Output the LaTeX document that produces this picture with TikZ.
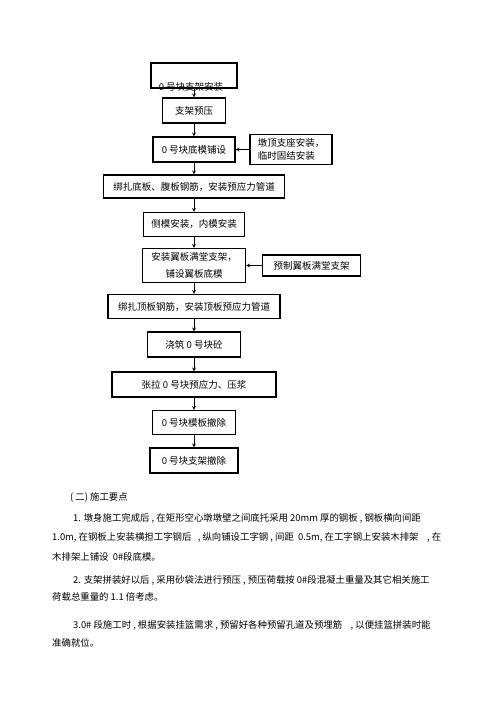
\documentclass[tikz,border=0pt]{standalone}
\usepackage{fontspec}
\setmainfont{Noto Sans CJK SC}
\usepackage{tikz}
\usetikzlibrary{shapes.geometric, arrows}
\tikzstyle{stepbox} = [rectangle, minimum height=25pt, inner xsep=3pt, text centered, draw=black, line width=1.1pt, font=\fontsize{9.5}{13}\selectfont]
\tikzstyle{sidebox} = [rectangle, inner xsep=3pt, align=left, draw=black, line width=1.1pt, font=\fontsize{9.5}{13}\selectfont]
\tikzstyle{arrow} = [line width=0.8pt,->,>=stealth]
\tikzstyle{bodytext} = [anchor=base west, inner sep=0pt, font=\fontsize{9.4}{11}\selectfont]

\begin{document}
\begin{tikzpicture}[node distance=38pt]

    \useasboundingbox (0,0) rectangle (500pt,-707pt);

    % Nodes
    \node (support) [stepbox, minimum width=86pt] at (194pt,-75.5pt) {};
    \node (supporttext) [anchor=base, inner sep=0pt, font=\fontsize{9.5}{13}\selectfont, xshift=-3pt, yshift=-2pt] at (support.south) {0 号块支架安装};
    \node (preload) [stepbox, minimum width=63pt, below of=support, yshift=3pt] {支架预压};
    \node (bottomform) [stepbox, minimum width=82pt, below of=preload, yshift=-1pt] {0 号块底模铺设};
    \node (bearing) [sidebox, minimum width=82pt, minimum height=30pt, right of=bottomform, node distance=97pt] {墩顶支座安装，\\临时固结安装};
    \node (webrebar) [stepbox, minimum width=181pt, minimum height=23pt, below of=bottomform, yshift=1pt] {绑扎底板、腹板钢筋，安装预应力管道};
    \node (sideform) [stepbox, minimum width=101pt, minimum height=24pt, below of=webrebar] {侧模安装，内模安装};
    \node (wingform) [stepbox, minimum width=103pt, minimum height=34pt, align=center, font=\fontsize{9.5}{17}\selectfont, below of=sideform, yshift=-3pt] {安装翼板满堂支架，\\铺设翼板底模};
    \node (prefab) [sidebox, minimum width=98pt, minimum height=21pt, right of=wingform, node distance=117.5pt] {预制翼板满堂支架};
    \node (toprebar) [stepbox, minimum width=172pt, minimum height=24pt, below of=wingform, yshift=-3pt] {绑扎顶板钢筋，安装顶板预应力管道};
    \node (pour) [stepbox, minimum width=93pt, below of=toprebar] {浇筑 0 号块砼};
    \node (tension) [stepbox, minimum width=164pt, below of=pour, yshift=-2pt] {张拉 0 号块预应力、压浆};
    \node (formremove) [stepbox, minimum width=83pt, minimum height=24pt, below of=tension] {0 号块模板撤除};
    \node (supportremove) [stepbox, minimum width=88pt, below of=formremove] {0 号块支架撤除};

    % Arrows
    \draw [arrow] (support) -- (preload);
    \draw [arrow] (preload) -- (bottomform);
    \draw [arrow] (bearing.west) -- (bottomform.east);
    \draw [arrow] (bottomform) -- (webrebar);
    \draw [arrow] (webrebar) -- (sideform);
    \draw [arrow] (sideform) -- (wingform);
    \draw [arrow] (prefab.west) -- (wingform.east);
    \draw [arrow] (wingform) -- (toprebar);
    \draw [arrow] (toprebar) -- (pour);
    \draw [arrow] (pour) -- (tension);
    \draw [arrow] (tension) -- (formremove);
    \draw [arrow] (formremove) -- (supportremove);

    % Text
    \node (heading) [bodytext] at (70pt,-500.5pt) {( 二) 施工要点};
    \node (pointa) [bodytext] at (73pt,-521.5pt) {1. 墩身施工完成后 , 在矩形空心墩墩壁之间底托采用 20mm 厚的钢板 , 钢板横向间距};
    \node (pointb) [bodytext] at (52pt,-540.5pt) {1.0m, 在钢板上安装横担工字钢后\ \ \ , 纵向铺设工字钢 , 间距\ \ 0.5m, 在工字钢上安装木排架\ \ \ \ , 在};
    \node (pointc) [bodytext] at (52pt,-560.5pt) {木排架上铺设\ \ 0\#段底模。};
    \node (pointd) [bodytext] at (73pt,-583.5pt) {2. 支架拼装好以后 , 采用砂袋法进行预压 , 预压荷载按 0\#段混凝土重量及其它相关施工};
    \node (pointe) [bodytext] at (52pt,-600.5pt) {荷载总重量的 1.1 倍考虑。};
    \node (pointf) [bodytext] at (73pt,-628.5pt) {3.0\# 段施工时 , 根据安装挂篮需求 , 预留好各种预留孔道及预埋筋\ \ \ \ , 以便挂篮拼装时能};
    \node (pointg) [bodytext] at (52pt,-646.5pt) {准确就位。};

\end{tikzpicture}
\end{document}
